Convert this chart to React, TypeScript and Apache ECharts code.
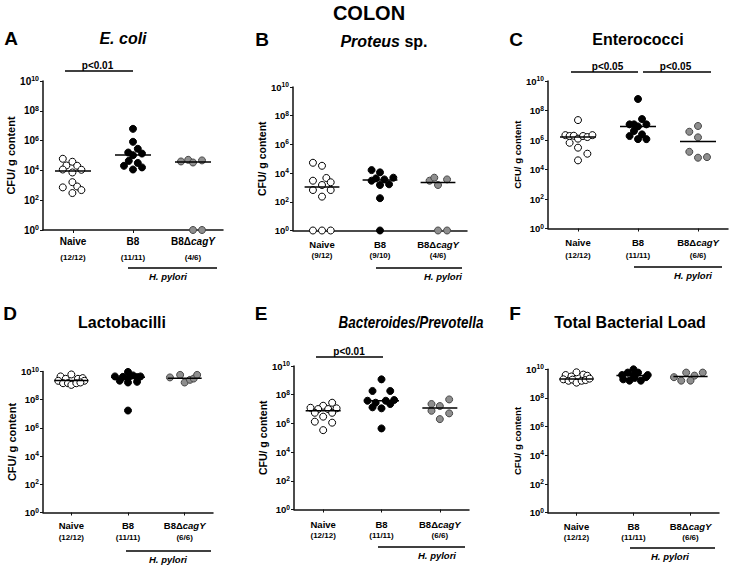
import React, { useEffect, useRef } from "react";
import * as echarts from "echarts";

// ---------- DATA ----------
const groups = ["Naive", "B8", "B8ΔcagY"];
const yTickExponents = [0, 2, 4, 6, 8, 10]; // tick labels 10^n, CFU/g

// each point: [spread inside the group (category units), log10 CFU / g content]
const ecoliNaive = [[-0.17, 4.78], [-0.01, 4.58], [-0.11, 4.33], [0.07, 4.31], [-0.17, 4.06], [0.14, 4.04], [-0.01, 3.86], [-0.01, 3.21], [-0.17, 2.86], [0.07, 2.92], [0.14, 2.68], [-0.01, 2.48]];
const ecoliB8 = [[0, 6.79], [0, 5.92], [0.08, 5.45], [-0.08, 5.2], [0.15, 5.13], [0, 5.02], [-0.07, 4.64], [-0.15, 4.31], [0.15, 4.2], [0, 4.06], [0.08, 4.5]];
const ecoliCagY = [[-0.2, 4.6], [-0.08, 4.71], [0, 4.53], [0.15, 4.67], [0, 0], [0.15, 0]];
const ecoliMedians = [3.96, 5.04, 4.57];
const ecoliCounts = ["(12/12)", "(11/11)", "(4/6)"];

const proteusNaive = [[-0.156, 4.72], [0, 4.51], [0.075, 3.66], [-0.156, 3.47], [0.15, 3.36], [0, 3.17], [-0.156, 2.82], [0.15, 2.82], [0, 2.36], [-0.156, 0], [0, 0], [0.15, 0]];
const proteusB8 = [[-0.145, 4.21], [0, 4.05], [-0.07, 3.63], [-0.145, 3.47], [0.075, 3.56], [0.23, 3.68], [0, 3.17], [0.156, 3.22], [0, 2.25], [0, 0]];
const proteusCagY = [[-0.145, 3.47], [-0.064, 3.68], [0, 3.17], [0.156, 3.56], [0, 0], [0.156, 0]];
const proteusMedians = [3.03, 3.52, 3.35];
const proteusCounts = ["(9/12)", "(9/10)", "(4/6)"];

const enteroNaive = [[0, 7.35], [-0.21, 6.33], [-0.14, 6.27], [-0.07, 6.29], [0, 6.09], [0.084, 6.27], [0.156, 6.2], [0.24, 6.33], [-0.14, 5.81], [0, 5.48], [0.156, 5.07], [0, 4.62]];
const enteroB8 = [[0, 8.78], [0.067, 7.42], [-0.14, 7.06], [-0.067, 7.06], [0.14, 7.06], [0, 6.92], [-0.067, 6.61], [-0.14, 6.27], [0.067, 6.38], [0, 6.06], [0.14, 6.06]];
const enteroCagY = [[-0.145, 6.56], [0, 6.95], [0, 6.18], [-0.145, 5.2], [0, 4.8], [0.15, 4.84]];
const enteroMedians = [6.2, 6.92, 5.9];
const enteroCounts = ["(12/12)", "(11/11)", "(6/6)"];

const lactoNaive = [[0, 9.79], [-0.19, 9.65], [-0.1, 9.48], [0.117, 9.48], [0.2, 9.53], [-0.23, 9.34], [0.23, 9.34], [-0.146, 9.17], [-0.06, 9.17], [0, 9.05], [0.088, 9.17], [0.16, 9.22]];
const lactoB8 = [[0, 9.97], [0.088, 9.72], [-0.23, 9.65], [0.22, 9.65], [-0.09, 9.62], [0.16, 9.6], [0, 9.52], [-0.146, 9.35], [0, 9.22], [0.16, 9.27], [0, 7.23]];
const lactoCagY = [[-0.26, 9.58], [-0.08, 9.76], [0, 9.22], [0.094, 9.41], [0.16, 9.5], [0.22, 9.76]];
const lactoMedians = [9.36, 9.6, 9.53];
const lactoCounts = ["(12/12)", "(11/11)", "(6/6)"];

const bactNaive = [[0.154, 7.44], [0, 7.23], [-0.217, 7.09], [-0.086, 7.0], [0.086, 7.0], [0.23, 7.05], [-0.143, 6.74], [0.154, 6.74], [0, 6.47], [-0.143, 6.12], [0.154, 6.05], [0, 5.53]];
const bactB8 = [[0, 9.07], [-0.154, 8.26], [0.15, 8.26], [-0.24, 7.58], [0.217, 7.63], [-0.1, 7.44], [0.074, 7.58], [-0.154, 7.12], [0, 7.05], [0.15, 7.35], [0, 5.65]];
const bactCagY = [[-0.143, 7.35], [0, 7.21], [0.16, 7.67], [-0.143, 6.88], [0.16, 6.7], [0, 6.3]];
const bactMedians = [6.88, 7.58, 7.07];
const bactCounts = ["(12/12)", "(11/11)", "(6/6)"];

const totalNaive = [[0, 9.79], [-0.19, 9.6], [-0.09, 9.5], [0.12, 9.63], [0.19, 9.55], [-0.23, 9.3], [-0.14, 9.2], [-0.07, 9.28], [0, 9.07], [0.09, 9.2], [0.16, 9.25], [0.23, 9.35]];
const totalB8 = [[0, 10.0], [-0.1, 9.77], [0.08, 9.77], [-0.2, 9.6], [0.25, 9.6], [0, 9.56], [-0.18, 9.3], [-0.07, 9.21], [0.13, 9.21], [0.22, 9.45], [0.02, 9.4]];
const totalCagY = [[-0.29, 9.45], [-0.076, 9.77], [-0.163, 9.21], [0.07, 9.56], [0, 9.21], [0.215, 9.77]];
const totalMedians = [9.33, 9.56, 9.49];
const totalCounts = ["(12/12)", "(11/11)", "(6/6)"];

const pValueLabels = ["p<0.01", "p<0.05", "p<0.05", "p<0.01"];

const panels = [
  { letter: "A", title: "{i|E. coli}", pts: [ecoliNaive, ecoliB8, ecoliCagY], medians: ecoliMedians, counts: ecoliCounts },
  { letter: "B", title: "{i|Proteus}{n| sp.}", pts: [proteusNaive, proteusB8, proteusCagY], medians: proteusMedians, counts: proteusCounts },
  { letter: "C", title: "{n|Enterococci}", pts: [enteroNaive, enteroB8, enteroCagY], medians: enteroMedians, counts: enteroCounts },
  { letter: "D", title: "{n|Lactobacilli}", pts: [lactoNaive, lactoB8, lactoCagY], medians: lactoMedians, counts: lactoCounts },
  { letter: "E", title: "{i|Bacteroides/Prevotella}", pts: [bactNaive, bactB8, bactCagY], medians: bactMedians, counts: bactCounts },
  { letter: "F", title: "{n|Total Bacterial Load}", pts: [totalNaive, totalB8, totalCagY], medians: totalMedians, counts: totalCounts },
];

// ---------- LAYOUT ----------
const FONT = "'Liberation Sans', Arial, Helvetica, sans-serif";
const layouts = [
  { grid: { left: 43, top: 81, width: 180, height: 149 }, letter: [11, 38], title: [123, 38], titleScale: 1, nameSize: 10, countSize: 8, nameOffset: 11, countGap: 16, tickSize: 10, yNameSize: 11, yNameGap: 23,
    hp: { x1: 128, x2: 217, y: 268, tx: 168, ty: 276 }, sig: [{ x1: 65, x2: 133, y: 71, tx: 97.5, ty: 65.5, p: 0 }] },
  { grid: { left: 293, top: 87, width: 174, height: 143.5 }, letter: [262, 39], title: [384, 41], titleScale: 1, nameSize: 9.5, countSize: 8, nameOffset: 13.5, countGap: 11, tickSize: 9.5, yNameSize: 10.5, yNameGap: 23,
    hp: { x1: 376, x2: 462, y: 268, tx: 443, ty: 276 }, sig: [] },
  { grid: { left: 548, top: 81, width: 180, height: 147.5 }, letter: [516, 39], title: [638, 39], titleScale: 1, nameSize: 9.5, countSize: 8, nameOffset: 13.8, countGap: 13.4, tickSize: 9.5, yNameSize: 9.6, yNameGap: 24,
    hp: { x1: 634, x2: 722, y: 267, tx: 693, ty: 275 }, sig: [{ x1: 571, x2: 638, y: 72, tx: 607.5, ty: 66, p: 1 }, { x1: 643, x2: 711, y: 72, tx: 675.5, ty: 66, p: 2 }] },
  { grid: { left: 43, top: 371.5, width: 170, height: 141 }, letter: [10, 313], title: [122, 322.7], titleScale: 1, nameSize: 9.5, countSize: 8, nameOffset: 13.3, countGap: 11.7, tickSize: 9.5, yNameSize: 11, yNameGap: 23,
    hp: { x1: 126, x2: 211, y: 551, tx: 168, ty: 559 }, sig: [] },
  { grid: { left: 294, top: 366, width: 175, height: 143.5 }, letter: [261, 313], title: [411, 323], titleScale: 0.84, nameSize: 9.5, countSize: 8, nameOffset: 14.8, countGap: 11.4, tickSize: 9.5, yNameSize: 10.5, yNameGap: 23,
    hp: { x1: 378, x2: 465, y: 547, tx: 437, ty: 555 }, sig: [{ x1: 316, x2: 383, y: 357, tx: 349, ty: 351.7, p: 3 }] },
  { grid: { left: 548, top: 369.3, width: 171, height: 143.4 }, letter: [515, 313], title: [630, 322], titleScale: 1, nameSize: 9.5, countSize: 8, nameOffset: 13.3, countGap: 11.7, tickSize: 9.5, yNameSize: 9.6, yNameGap: 24,
    hp: { x1: 630, x2: 715, y: 548, tx: 670, ty: 556 }, sig: [] },
];

const groupStyles = [
  { color: "#ffffff", borderColor: "#000000" },
  { color: "#000000", borderColor: "#000000" },
  { color: "#8e8e8e", borderColor: "#474747" },
];
const MEDIAN_HALF = 0.3;
const AXIS_COLOR = "#111";

function text(x: number, y: number, str: string, opts: any = {}) {
  const { rich, scaleX, ...rest } = opts;
  return {
    type: "text",
    x,
    y,
    scaleX: scaleX ?? 1,
    style: {
      text: str,
      fontFamily: FONT,
      fontWeight: "bold",
      fill: "#000",
      align: "center",
      verticalAlign: "middle",
      textAlign: "center",
      textVerticalAlign: "middle",
      rich,
      ...rest,
    },
  };
}

function hline(x1: number, x2: number, y: number) {
  return { type: "line", shape: { x1, y1: y, x2, y2: y }, style: { stroke: "#000", lineWidth: 1.5 } };
}

function buildOption() {
  const grid: any[] = [];
  const xAxis: any[] = [];
  const yAxis: any[] = [];
  const series: any[] = [];
  const graphic: any[] = [];

  graphic.push(text(369, 13, "COLON", { fontSize: 20 }));

  panels.forEach((p, i) => {
    const L = layouts[i];
    grid.push({ ...L.grid, containLabel: false });
    const countLH = 2 * (L.countGap - 6);
    xAxis.push({
      type: "category",
      gridIndex: i,
      data: groups,
      boundaryGap: true,
      axisLine: { show: true, onZero: false, lineStyle: { color: AXIS_COLOR, width: 1.5 } },
      axisTick: { show: true, alignWithLabel: true, length: 3, lineStyle: { color: AXIS_COLOR, width: 1 } },
      splitLine: { show: false },
      axisLabel: {
        interval: 0,
        margin: L.nameOffset - 6,
        formatter: (v: string, idx: number) => {
          const name = v === "B8ΔcagY" ? "{n|B8Δ}{ni|cagY}" : `{n|${v}}`;
          return `${name}\n{c|${p.counts[idx]}}`;
        },
        rich: {
          n: { fontSize: L.nameSize, fontWeight: "bold", fontFamily: FONT, color: "#000", lineHeight: 12 },
          ni: { fontSize: L.nameSize, fontWeight: "bold", fontStyle: "italic", fontFamily: FONT, color: "#000", lineHeight: 12 },
          c: { fontSize: L.countSize, fontWeight: "bold", fontFamily: FONT, color: "#000", lineHeight: countLH },
        },
      },
    });
    xAxis.push({ type: "value", gridIndex: i, min: -0.5, max: groups.length - 0.5, show: false, axisLine: { onZero: false } });
    yAxis.push({
      type: "value",
      gridIndex: i,
      position: "left",
      min: yTickExponents[0],
      max: yTickExponents[yTickExponents.length - 1],
      interval: yTickExponents[1] - yTickExponents[0],
      axisLine: { show: true, onZero: false, lineStyle: { color: AXIS_COLOR, width: 1.5 } },
      axisTick: { show: true, length: 3, lineStyle: { color: AXIS_COLOR, width: 1 } },
      splitLine: { show: false },
      axisLabel: {
        margin: 4,
        formatter: (v: number) => `{b|10}{s|${v}}`,
        rich: {
          b: { fontSize: L.tickSize, fontWeight: "bold", fontFamily: FONT, color: "#000", lineHeight: 12 },
          s: { fontSize: L.tickSize * 0.7, fontWeight: "bold", fontFamily: FONT, color: "#000", lineHeight: 6, verticalAlign: "top" },
        },
      },
      name: "CFU/ g content",
      nameLocation: "middle",
      nameGap: L.yNameGap,
      nameTextStyle: { fontSize: L.yNameSize, fontWeight: "bold", fontFamily: FONT, color: "#000" },
    });

    p.pts.forEach((pts, g) => {
      series.push({
        type: "scatter",
        xAxisIndex: 2 * i + 1,
        yAxisIndex: i,
        data: pts.map(([dx, e]) => [g + dx, e]),
        symbol: "circle",
        symbolSize: 7,
        clip: false,
        itemStyle: { color: groupStyles[g].color, borderColor: groupStyles[g].borderColor, borderWidth: 1, opacity: 1 },
        z: 2,
        silent: true,
      });
      series.push({
        type: "line",
        xAxisIndex: 2 * i + 1,
        yAxisIndex: i,
        data: [[g - MEDIAN_HALF, p.medians[g]], [g + MEDIAN_HALF, p.medians[g]]],
        symbol: "none",
        lineStyle: { color: "#000", width: 1.5 },
        z: 3,
        silent: true,
      });
    });

    graphic.push(text(L.letter[0], L.letter[1], p.letter, { fontSize: 19 }));
    const titleRich = {
      i: { fontSize: 16, fontWeight: "bold", fontStyle: "italic", fontFamily: FONT, fill: "#000" },
      n: { fontSize: 16, fontWeight: "bold", fontFamily: FONT, fill: "#000" },
    };
    graphic.push(text(L.title[0], L.title[1], p.title, { rich: titleRich, fontSize: 16, scaleX: L.titleScale }));

    L.sig.forEach((s) => {
      graphic.push(hline(s.x1, s.x2, s.y));
      graphic.push(text(s.tx, s.ty, pValueLabels[s.p], { fontSize: 10 }));
    });

    graphic.push(hline(L.hp.x1, L.hp.x2, L.hp.y));
    graphic.push(text(L.hp.tx, L.hp.ty, "H. pylori", { fontSize: 9.5, fontStyle: "italic" }));
  });

  return { animation: false, backgroundColor: "#ffffff", grid, xAxis, yAxis, series, graphic };
}

export default function App() {
  const ref = useRef<HTMLDivElement>(null);
  useEffect(() => {
    if (!ref.current) return;
    const chart = echarts.init(ref.current, undefined, { renderer: "svg" });
    chart.setOption(buildOption());
    return () => chart.dispose();
  }, []);
  return <div ref={ref} style={{ position: "fixed", left: 0, top: 0, width: 731, height: 565, background: "#fff" }} />;
}
